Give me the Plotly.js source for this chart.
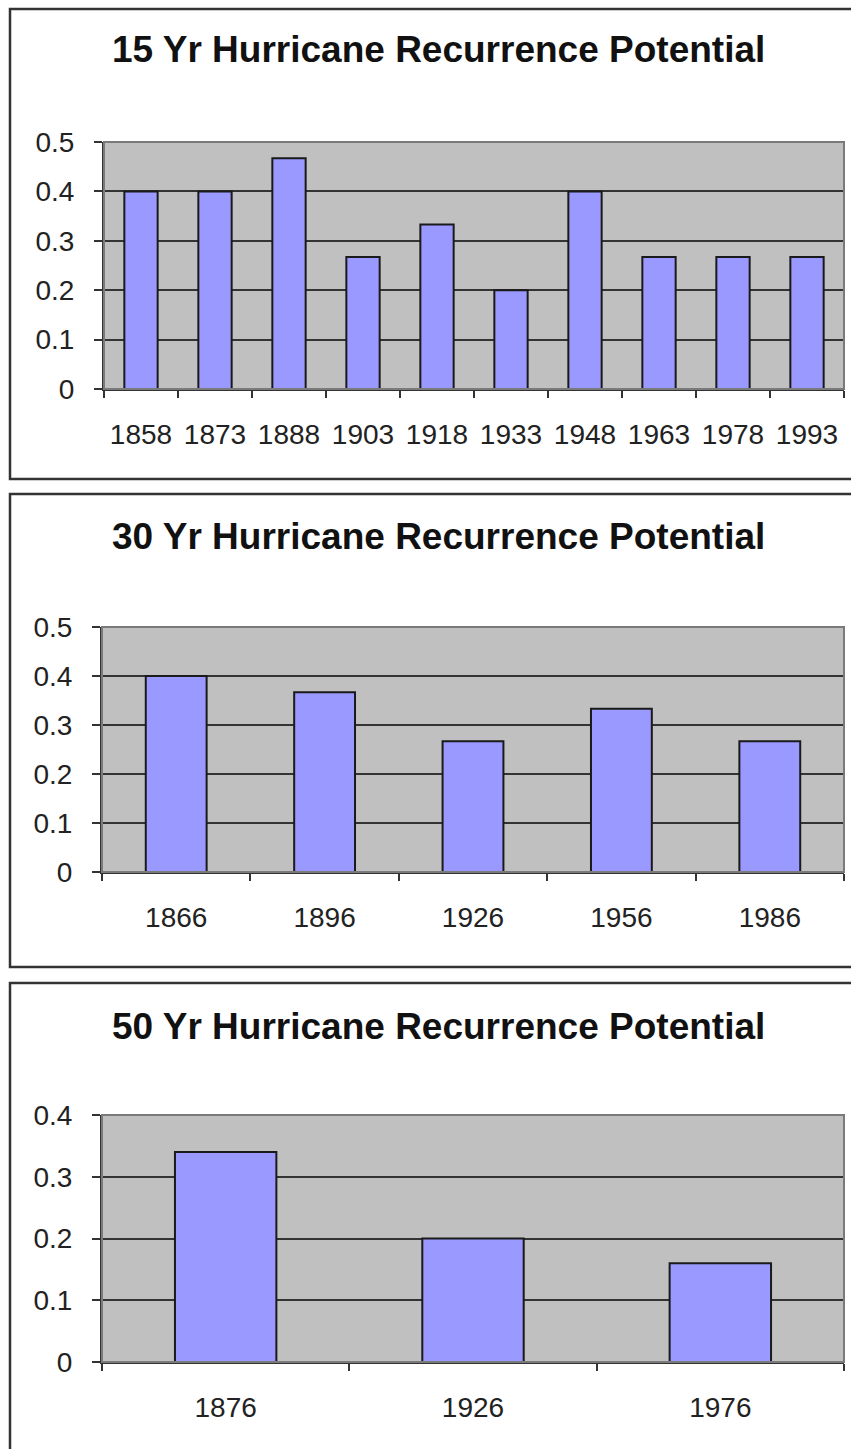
<!DOCTYPE html>
<html>
<head>
<meta charset="utf-8">
<script src="https://cdn.plot.ly/plotly-3.0.1.min.js"></script>
<style>
html,body{margin:0;padding:0;background:#fff;}
#chart{width:851px;height:1449px;}
</style>
</head>
<body>
<div id="chart"></div>
<script>
// ---- data ----
const titles = [
  '15 Yr Hurricane Recurrence Potential',
  '30 Yr Hurricane Recurrence Potential',
  '50 Yr Hurricane Recurrence Potential'
];
const years15 = ['1858','1873','1888','1903','1918','1933','1948','1963','1978','1993'];
const values15 = [0.4, 0.4, 0.467, 0.267, 0.333, 0.2, 0.4, 0.267, 0.267, 0.267];
const years30 = ['1866','1896','1926','1956','1986'];
const values30 = [0.4, 0.367, 0.267, 0.333, 0.267];
const years50 = ['1876','1926','1976'];
const values50 = [0.34, 0.2, 0.16];
const yMax = [0.5, 0.5, 0.4];

// ---- styling / layout ----
const W = 851, H = 1449;
const px = v => v / W;
const py = v => 1 - v / H;
const FONT = 'Liberation Sans, Arial, sans-serif';
const barColor = '#9999FF';
const bgColor = '#C0C0C0';

// plot areas in pixels [left, right, top, bottom]
const areas = [
  [104, 844, 142, 389],
  [102, 844, 627, 872],
  [102, 844, 1115, 1362]
];
// panel frames [top, bottom]
const frames = [[9, 479], [494, 967], [983, 1460]];
const titleY = [50, 536, 1026];
const barWidths = [0.45, 0.41, 0.41];

const cats = [years15, years30, years50];
const vals = [values15, values30, values50];

const data = [];
const layout = {
  width: W, height: H,
  margin: {l: 0, r: 0, t: 0, b: 0},
  paper_bgcolor: '#ffffff',
  plot_bgcolor: bgColor,
  showlegend: false,
  font: {family: FONT, color: '#222'},
  shapes: [],
  annotations: []
};

for (let i = 0; i < 3; i++) {
  const sfx = i === 0 ? '' : String(i + 1);
  const a = areas[i];
  data.push({
    type: 'bar',
    x: cats[i],
    y: vals[i],
    xaxis: 'x' + sfx,
    yaxis: 'y' + sfx,
    width: barWidths[i],
    marker: {color: barColor, line: {color: '#1a1a1a', width: 2}},
    hoverinfo: 'x+y'
  });
  layout['xaxis' + sfx] = {
    domain: [px(a[0]), px(a[1])],
    anchor: 'y' + sfx,
    type: 'category',
    showgrid: false,
    showline: true, linecolor: '#333', linewidth: 2,
    ticks: 'outside', tickson: 'boundaries', ticklen: 7, tickwidth: 2, tickcolor: '#333',
    tickfont: {family: FONT, size: 28, color: '#222'},
    ticklabelstandoff: 19,
    zeroline: false,
    fixedrange: true
  };
  layout['yaxis' + sfx] = {
    domain: [py(a[3]), py(a[2])],
    anchor: 'x' + sfx,
    range: [0, yMax[i]],
    dtick: 0.1, tick0: 0,
    showgrid: true, gridcolor: '#333333', gridwidth: 2,
    showline: true, linecolor: '#333', linewidth: 2,
    ticks: 'outside', ticklen: 8, tickwidth: 2, tickcolor: '#333',
    tickfont: {family: FONT, size: 28, color: '#222'},
    ticklabelstandoff: 14,
    zeroline: false,
    fixedrange: true
  };
  // plot-area outline
  layout.shapes.push({
    type: 'rect', xref: 'x' + sfx + ' domain', yref: 'y' + sfx + ' domain',
    x0: 0, x1: 1, y0: 0, y1: 1,
    line: {color: '#7a7a7a', width: 2}, layer: 'above'
  });
  // panel frame
  layout.shapes.push({
    type: 'rect', xref: 'paper', yref: 'paper',
    x0: px(10), x1: px(870), y0: py(frames[i][1]), y1: py(frames[i][0]),
    line: {color: '#333', width: 2.5}
  });
  layout.annotations.push({
    xref: 'paper', yref: 'paper',
    x: px(438), y: py(titleY[i]),
    xanchor: 'center', yanchor: 'middle',
    text: '<b>' + titles[i] + '</b>',
    showarrow: false,
    font: {family: FONT, size: 37, color: '#111'}
  });
}

Plotly.newPlot('chart', data, layout, {displayModeBar: false, staticPlot: true});
</script>
</body>
</html>
